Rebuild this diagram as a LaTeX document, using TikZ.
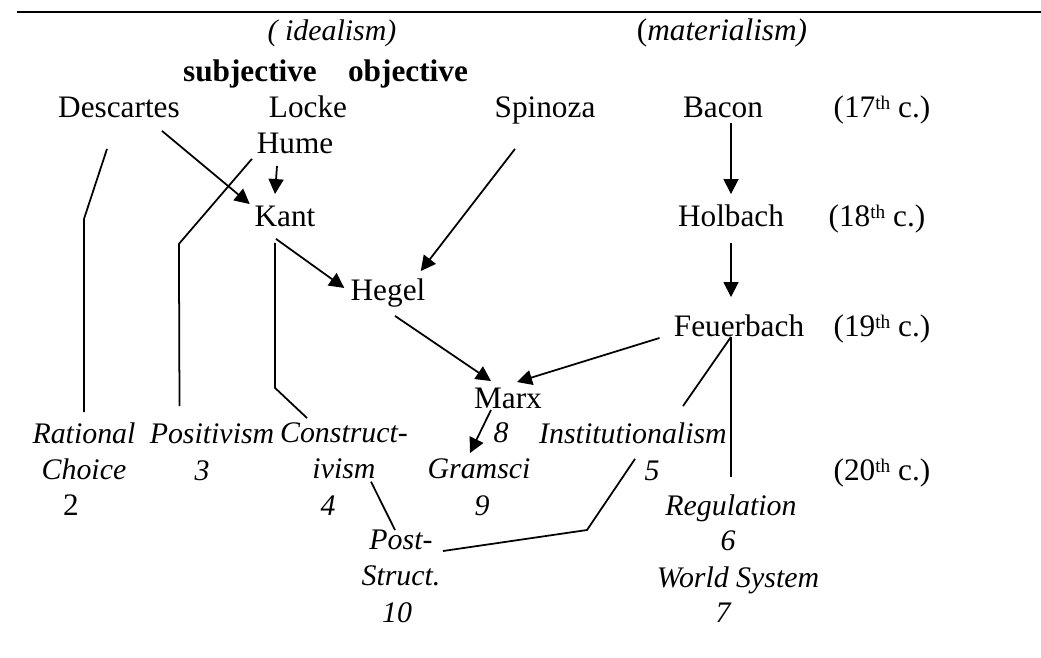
\documentclass[tikz,border=0pt]{standalone}
\usepackage{fontspec}
\setmainfont{Liberation Serif}
\usetikzlibrary{arrows.meta}
\newcommand\bigfont{\fontsize{17.8}{20.4}\selectfont}
\newcommand\itfont{\fontsize{17}{20.4}\selectfont\itshape}
\newcommand\ord[1]{\raisebox{4.5pt}{\fontsize{11}{11}\selectfont #1}}
\tikzset{
  thinker/.style={anchor=base, text height=12pt, text depth=4pt},
  school/.style={thinker, font=\itfont},
  twoline/.style={anchor=north, align=center, font=\itfont},
  arr/.style={-{Triangle[length=3mm,width=3mm]}}
}

\begin{document}
\begin{tikzpicture}[x=0.02cm,y=-0.02cm,line width=1pt,every node/.style={inner sep=0pt,font=\bigfont}]
\useasboundingbox (0,0) rectangle (1041,657);
\draw[line width=1.4pt] (17,12) -- (1041,12);     %顶部横线
%标题
\node[school] (idealism) at (332,40) {( idealism)};
\node[thinker] (materialism) at (722,40) {(\textit{materialism)}};
\node[thinker,font=\bigfont\bfseries] (subjective) at (250,81) {subjective};
\node[thinker,font=\bigfont\bfseries] (objective) at (408,81) {objective};
%哲学家
\node[thinker] (descartes) at (119,117) {Descartes};
\node[thinker] (locke) at (308,117) {Locke};
\node[thinker] (spinoza) at (545,117) {Spinoza};
\node[thinker] (bacon) at (723,117) {Bacon};
\node[thinker] (hume) at (295,153) {Hume};
\node[thinker] (kant) at (285,226) {Kant};
\node[thinker] (holbach) at (731,226) {Holbach};
\node[thinker] (hegel) at (388,300) {Hegel};
\node[thinker] (feuerbach) at (739,336) {Feuerbach};
\node[thinker] (marx) at (508,408) {Marx};
%世纪
\node[thinker] (c17) at (882,117) {(17\ord{th} c.)};
\node[thinker] (c18) at (877,226) {(18\ord{th} c.)};
\node[thinker] (c19) at (882,336) {(19\ord{th} c.)};
\node[thinker] (c20) at (882,480) {(20\ord{th} c.)};
%学派
\node[twoline] (rational) at (84,422) {Rational\\Choice};
\node[thinker] (n2) at (71,515) {2};
\node[school] (positivism) at (212,443) {Positivism};
\node[school] (n3) at (202,480) {3};
\node[twoline] (construct) at (344,422) {Construct-\\ivism};
\node[school] (n4) at (328,515) {4};
\node[school] (n8) at (501,442) {8};
\node[school] (gramsci) at (479,478) {Gramsci};
\node[school] (n9) at (482,515) {9};
\node[school] (institutionalism) at (633,443) {Institutionalism};
\node[school] (n5) at (652,480) {5};
\node[school] (regulation) at (731,515) {Regulation};
\node[school] (n6) at (728,550) {6};
\node[school] (worldsystem) at (738,587) {World System};
\node[school] (n7) at (723,622) {7};
\node[twoline] (poststruct) at (401,529) {Post-\\Struct.};
\node[school] (n10) at (397,622) {10};
%连线
\draw ([shift={(-12,24)}]descartes.south) -- ++(-23,70) -- ([shift={(0,-10)}]rational.north);
\draw[arr] ([shift={(43,6)}]descartes.south) -- ([shift={(-4,0)}]kant.north west);
\draw ([shift={(-4,-2)}]hume.south west) -- ++(-73,85) -- ([shift={(-32.5,-15)}]positivism.north);
\draw[arr] ([shift={(-18,5)}]hume.south) -- ([shift={(-10,-10)}]kant.north);
\draw ([shift={(-10,9)}]kant.south) -- ++(0,145) -- ([shift={(-37,-4)}]construct.north);
\draw[arr] ([shift={(-9,5)}]kant.south) -- ([shift={(-5.5,-5)}]hegel.west);
\draw[arr] ([shift={(-30,24)}]spinoza.south) -- ([shift={(-5.5,-7)}]hegel.north east);
\draw[arr] ([shift={(7,8)}]hegel.south) -- ([shift={(-17,-5)}]marx.north);
\draw[arr] ([shift={(-13.5,9)}]feuerbach.west) -- ([shift={(9,-4)}]marx.north);
\draw[arr] ([shift={(8,-2)}]bacon.south) -- ([shift={(0,-10)}]holbach.north);
\draw[arr] ([shift={(0,9)}]holbach.south) -- ([shift={(-8,-17)}]feuerbach.north);
\draw ([shift={(-8,-7)}]feuerbach.south) -- ([shift={(0,-16)}]regulation.north);
\draw ([shift={(-8,-7)}]feuerbach.south) -- ([shift={(50,-15)}]institutionalism.north);
\draw[arr] ([shift={(-17,-6)}]marx.south) -- ([shift={(-9,-3)}]gramsci.north);
\draw ([shift={(27,2)}]construct.south) -- ([shift={(-6,1)}]poststruct.north);
\draw ([shift={(42,22)}]poststruct.north) -- ++(144,-21) -- ([shift={(2,8)}]institutionalism.south);     %折线
\end{tikzpicture}
\end{document}
